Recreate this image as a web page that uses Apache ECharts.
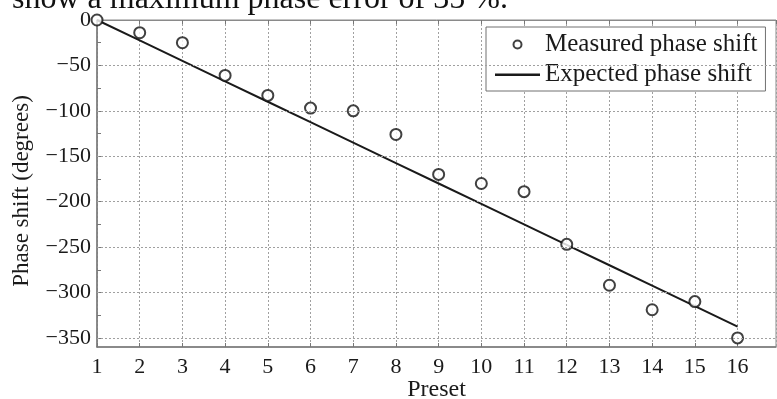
<!DOCTYPE html>
<html>
<head>
<meta charset="utf-8">
<script src="https://cdn.jsdelivr.net/npm/echarts@6/dist/echarts.min.js"></script>
<style>html,body{margin:0;padding:0;background:#fff}#c{width:777px;height:399px}</style>
</head>
<body>
<div id="c"></div>
<script>
const presets = [1,2,3,4,5,6,7,8,9,10,11,12,13,14,15,16];
const measured = [0,-14,-25,-61,-83,-97,-100,-126,-170,-180,-189,-247,-292,-319,-310,-350];
const expected = [0,-22.5,-45,-67.5,-90,-112.5,-135,-157.5,-180,-202.5,-225,-247.5,-270,-292.5,-315,-337.5];
const yTicks = [-350,-300,-250,-200,-150,-100,-50,0];
const yMinorTicks = [-350,-325,-300,-275,-250,-225,-200,-175,-150,-125,-100,-75,-50,-25,0];
const gridYLines = [-350,-300,-250,-200,-150,-100,-50];

const serif = '"Liberation Serif","Times New Roman",serif';
const chart = echarts.init(document.getElementById('c'), null, {renderer:'canvas'});
const gridColor = '#a0a0a0';
const lineIcon = 'path://M0,0L0.01,0L0,0.01Z M0,3L45,3L45,5.4L0,5.4Z M45,8L44.99,8L45,7.99Z';
chart.setOption({
  animation:false,
  backgroundColor:'#fff',
  graphic:[{type:'text', left:12, top:-16, style:{text:'show a maximum phase error of 35 %.', font:'32px '+serif, fill:'#111'}}],
  grid:{left:97, right:1, top:20, bottom:52, show:true, borderColor:'#8a8a8a', borderWidth:1, containLabel:false, outerBoundsMode:'none'},
  legend:{
    data:[{name:'Measured phase shift', icon:'emptyCircle'},{name:'Expected phase shift', icon:lineIcon}],
    orient:'vertical', left:486, top:27,
    padding:[5,8,4,9], itemGap:5, itemWidth:45, itemHeight:8,
    backgroundColor:'#fff', borderColor:'#707070', borderWidth:1,
    textStyle:{fontFamily:serif, fontSize:25, color:'#1a1a1a'}
  },
  xAxis:[{
    type:'value', min:1, max:16.9, interval:1,
    name:'Preset', nameLocation:'middle', nameGap:31, nameMoveOverlap:false,
    nameTextStyle:{fontFamily:serif, fontSize:24, color:'#1a1a1a'},
    axisLine:{show:true, onZero:false, lineStyle:{color:'#777', width:1.5}},
    axisTick:{show:true, inside:true, length:4, lineStyle:{color:'#777'}},
    axisLabel:{showMaxLabel:false, margin:9, fontFamily:serif, fontSize:22, color:'#1a1a1a',
      formatter:v=>Number.isInteger(v)?String(v):''},
    splitLine:{show:true, lineStyle:{color:gridColor, type:[2,2], width:1}}
  },{
    type:'value', min:1, max:16.9, interval:1, position:'top',
    axisLine:{show:true, onZero:false, lineStyle:{color:'#8a8a8a'}},
    axisTick:{show:true, inside:true, length:4, lineStyle:{color:'#777'}},
    axisLabel:{show:false}, splitLine:{show:false}
  }],
  yAxis:{
    type:'value', min:-360, max:0,
    name:'Phase shift (degrees)', nameLocation:'middle', nameGap:64, nameRotate:90, nameMoveOverlap:false,
    nameTextStyle:{fontFamily:serif, fontSize:23, color:'#1a1a1a', padding:[0,15,0,0]},
    axisLine:{show:true, onZero:false, lineStyle:{color:'#777', width:1.5}},
    axisTick:{show:true, inside:true, length:4, customValues:yMinorTicks, lineStyle:{color:'#777'}},
    axisLabel:{customValues:yTicks, margin:6, fontFamily:serif, fontSize:22, color:'#1a1a1a',
      formatter:v=>String(v).replace('-','\u2212')},
    splitLine:{show:false}
  },
  series:[{
    name:'grid', type:'line', data:[], z:1, silent:true,
    markLine:{silent:true, symbol:['none','none'], label:{show:false},
      lineStyle:{color:gridColor, type:[2,2], width:1},
      data:gridYLines.map(v=>({yAxis:v}))}
  },{
    name:'Expected phase shift', type:'line', z:3,
    data:presets.map((p,i)=>[p,expected[i]]),
    symbol:'none', lineStyle:{color:'#1a1a1a', width:2}, itemStyle:{color:'#1a1a1a'}
  },{
    name:'Measured phase shift', type:'scatter', z:4,
    data:presets.map((p,i)=>[p,measured[i]]),
    symbol:'emptyCircle', symbolSize:11,
    itemStyle:{color:'#111', borderColor:'#111', borderWidth:2.2}
  }]
});
</script>
</body>
</html>
